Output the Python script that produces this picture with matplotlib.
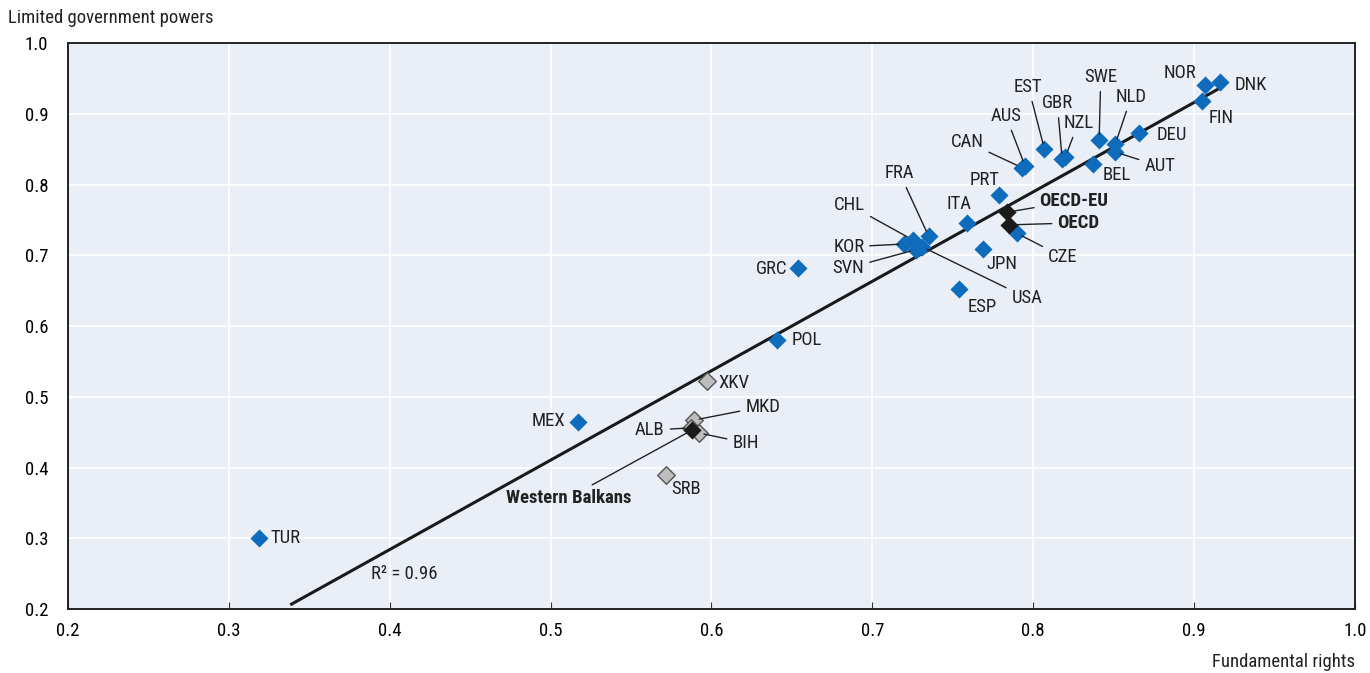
import matplotlib.pyplot as plt

plt.rcParams['font.family'] = ['Roboto Condensed', 'Liberation Sans Narrow', 'Roboto', 'DejaVu Sans']

# OECD countries (blue)
countries = ['TUR', 'MEX', 'POL', 'GRC', 'ESP', 'JPN', 'ITA', 'PRT', 'CZE',
             'KOR', 'CHL', 'FRA', 'SVN', 'USA', 'CAN', 'AUS', 'EST', 'GBR',
             'NZL', 'SWE', 'NLD', 'AUT', 'BEL', 'DEU', 'NOR', 'DNK', 'FIN']
rights = [0.319, 0.517, 0.641, 0.654, 0.754, 0.769, 0.759, 0.779, 0.790,
          0.720, 0.725, 0.735, 0.727, 0.731, 0.793, 0.795, 0.807, 0.818,
          0.820, 0.841, 0.851, 0.851, 0.837, 0.866, 0.907, 0.916, 0.905]
powers = [0.300, 0.464, 0.580, 0.682, 0.652, 0.709, 0.746, 0.785, 0.731,
          0.716, 0.722, 0.727, 0.708, 0.712, 0.824, 0.826, 0.850, 0.836,
          0.839, 0.863, 0.857, 0.846, 0.829, 0.873, 0.941, 0.945, 0.918]

# Western Balkans economies (grey)
wb = ['XKV', 'MKD', 'ALB', 'BIH', 'SRB']
wb_rights = [0.597, 0.589, 0.587, 0.592, 0.572]
wb_powers = [0.522, 0.467, 0.456, 0.449, 0.389]

# aggregates (black)
agg = ['OECD-EU', 'OECD', 'Western Balkans']
agg_rights = [0.784, 0.785, 0.588]
agg_powers = [0.761, 0.743, 0.453]

# regression line end points
fit_x = [0.339, 0.915]
fit_y = [0.207, 0.935]

# label positions (data coords), alignment, leader line or not
labels = {
    'TUR': (0.326, 0.300, 'left', False), 'MEX': (0.509, 0.466, 'right', False),
    'POL': (0.650, 0.580, 'left', False), 'GRC': (0.647, 0.680, 'right', False),
    'ESP': (0.759, 0.627, 'left', False), 'JPN': (0.771, 0.688, 'left', False),
    'ITA': (0.754, 0.772, 'center', False), 'PRT': (0.770, 0.806, 'center', False),
    'CZE': (0.809, 0.698, 'left', True), 'KOR': (0.695, 0.712, 'right', True),
    'CHL': (0.686, 0.771, 'center', True), 'FRA': (0.717, 0.816, 'center', True),
    'SVN': (0.695, 0.682, 'right', True), 'USA': (0.796, 0.640, 'center', True),
    'CAN': (0.759, 0.860, 'center', True), 'AUS': (0.783, 0.897, 'center', True),
    'EST': (0.797, 0.938, 'center', True), 'GBR': (0.815, 0.915, 'center', True),
    'NZL': (0.828, 0.887, 'center', True), 'SWE': (0.842, 0.952, 'center', True),
    'NLD': (0.861, 0.924, 'center', True), 'AUT': (0.869, 0.826, 'left', True),
    'BEL': (0.843, 0.813, 'left', False), 'DEU': (0.877, 0.870, 'left', False),
    'NOR': (0.891, 0.958, 'center', False), 'DNK': (0.925, 0.941, 'left', False),
    'FIN': (0.909, 0.894, 'left', False),
    'XKV': (0.604, 0.519, 'left', False), 'MKD': (0.621, 0.486, 'left', True),
    'ALB': (0.571, 0.453, 'right', True), 'BIH': (0.613, 0.435, 'left', True),
    'SRB': (0.575, 0.370, 'left', False),
    'OECD-EU': (0.804, 0.777, 'left', True), 'OECD': (0.815, 0.746, 'left', True),
    'Western Balkans': (0.511, 0.357, 'center', True),
}

fs = 13.5
blue = '#0F6CBD'
fig = plt.figure(figsize=(13.7, 6.73), dpi=100)
ax = fig.add_axes([0.0496, 0.095, 0.9394, 0.841])
ax.set_facecolor('#E9EEF7')

ax.plot(fit_x, fit_y, color='#1a1a1a', lw=2.2, zorder=2)
ax.scatter(rights, powers, marker='D', s=85, color=blue, zorder=4, linewidths=0)
ax.scatter(wb_rights, wb_powers, marker='D', s=80, color='#BEBEBE',
           edgecolors='#555555', linewidths=1, zorder=4)
ax.scatter(agg_rights, agg_powers, marker='D', s=85, color='#1a1a1a', zorder=5, linewidths=0)

pts = dict(zip(countries, zip(rights, powers)))
pts.update(zip(wb, zip(wb_rights, wb_powers)))
pts.update(zip(agg, zip(agg_rights, agg_powers)))

for name, (tx, ty, ha, lead) in labels.items():
    bold = name in agg
    arrow = dict(arrowstyle='-', color='#222222', lw=1, shrinkA=2, shrinkB=4) if lead else None
    ax.annotate(name, xy=pts[name], xytext=(tx, ty), ha=ha, va='center',
                fontsize=fs, color='#222222', fontweight='bold' if bold else 'normal',
                arrowprops=arrow, zorder=6)

ax.text(0.409, 0.249, 'R² = 0.96', ha='center', va='center', fontsize=fs, color='#222222')

ax.set_xlim(0.2, 1.0)
ax.set_ylim(0.2, 1.0)
ax.set_xticks([0.2, 0.3, 0.4, 0.5, 0.6, 0.7, 0.8, 0.9, 1.0])
ax.set_yticks([0.2, 0.3, 0.4, 0.5, 0.6, 0.7, 0.8, 0.9, 1.0])
ax.grid(True, color='white', lw=1.2)
ax.set_axisbelow(True)
ax.tick_params(axis='x', direction='in', length=5, color='#333333', labelsize=fs, pad=9)
ax.tick_params(axis='y', length=0, labelsize=fs, pad=14)
for s in ax.spines.values():
    s.set_color('#222222')
    s.set_linewidth(1.4)

fig.text(0.006, 0.973, 'Limited government powers', ha='left', va='center', fontsize=fs, color='#222222')
fig.text(0.989, 0.016, 'Fundamental rights', ha='right', va='center', fontsize=fs, color='#222222')

fig.savefig('out.png', dpi=100)
